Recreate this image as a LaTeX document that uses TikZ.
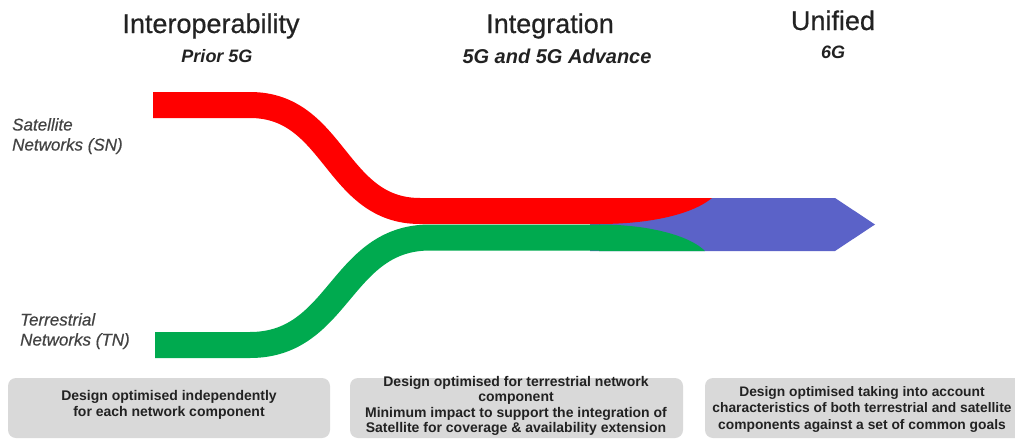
\documentclass[tikz,border=0pt]{standalone}
\usepackage{fontspec}
\setmainfont{Liberation Sans}
\definecolor{bandred}{HTML}{FF0000}
\definecolor{bandgreen}{HTML}{00AA4F}
\definecolor{bandblue}{HTML}{5B62C8}
\definecolor{boxgray}{HTML}{D9D9D9}
\definecolor{txt}{HTML}{222222}
\tikzset{
  band/.style={line width=26pt, line cap=butt},
  headline/.style={anchor=base, inner sep=0pt, font=\fontsize{27}{30}\selectfont\addfontfeature{FakeBold=0.6}, text=txt},
  subline/.style={anchor=base, inner sep=0pt, font=\fontsize{18}{20}\selectfont\bfseries\itshape, text=txt},
  netlabel/.style={anchor=north west, inner sep=0pt, align=left, font=\fontsize{17}{20}\selectfont\itshape\addfontfeature{FakeBold=0.5}, text=txt!85},
  infobox/.style={fill=boxgray, rounded corners=8pt},
  infotext/.style={align=center, inner sep=0pt, font=\fontsize{14}{16.5}\selectfont\bfseries, text=txt},
}
\begin{document}
\begin{tikzpicture}[x=1pt,y=-1pt]
\useasboundingbox (0,0) rectangle (1015,439);
% blue arrow behind
\fill[bandblue] (590,198) -- (835,198) -- (875,224.5) -- (835,251) -- (590,251) -- cycle;
% red band
\draw[band, bandred] (153,105) -- (250,105) .. controls (335,105) and (335,211) .. (420,211) -- (600,211);
\fill[bandred] (599,198) -- (712,198) .. controls (690,216) and (645,224) .. (599,224) -- cycle;
% green band
\draw[band, bandgreen] (155,345) -- (250,345) .. controls (340,345) and (340,237.5) .. (430,237.5) -- (600,237.5);
\fill[bandgreen] (599,224.5) .. controls (650,224.5) and (690,236) .. (705,251) -- (599,251) -- cycle;
% headings
\node[headline] (h1) at (211,33) {Interoperability};
\node[subline] (s1) at (217,62) {Prior 5G};
\node[headline] (h2) at (550,33) {Integration};
\node[subline, font=\fontsize{20}{22}\selectfont\bfseries\itshape] (s2) at (557,63) {5G and 5G Advance};
\node[headline] (h3) at (833,30) {Unified};
\node[subline] (s3) at (833,58) {6G};
% network labels
\node[netlabel] (sn) at (12,118) {Satellite\\Networks (SN)};
\node[netlabel] (tn) at (20,313) {Terrestrial\\Networks (TN)};
% boxes
\fill[infobox] (8,378) rectangle (330,438);
\fill[infobox] (350,378) rectangle (683,438);
\fill[infobox] (705,378) rectangle (1030,438);
\node[infotext] (b1) at (169,405) {Design optimised independently\\for each network component};
\node[infotext, font=\fontsize{14}{15.5}\selectfont\bfseries] (b2) at (516,406) {Design optimised for terrestrial network\\component\\Minimum impact to support the integration of\\Satellite for coverage \& availability extension};
\node[infotext, font=\fontsize{13.8}{16.5}\selectfont\bfseries] (b3) at (862,409) {Design optimised taking into account\\characteristics of both terrestrial and satellite\\components against a set of common goals};
\end{tikzpicture}
\end{document}
